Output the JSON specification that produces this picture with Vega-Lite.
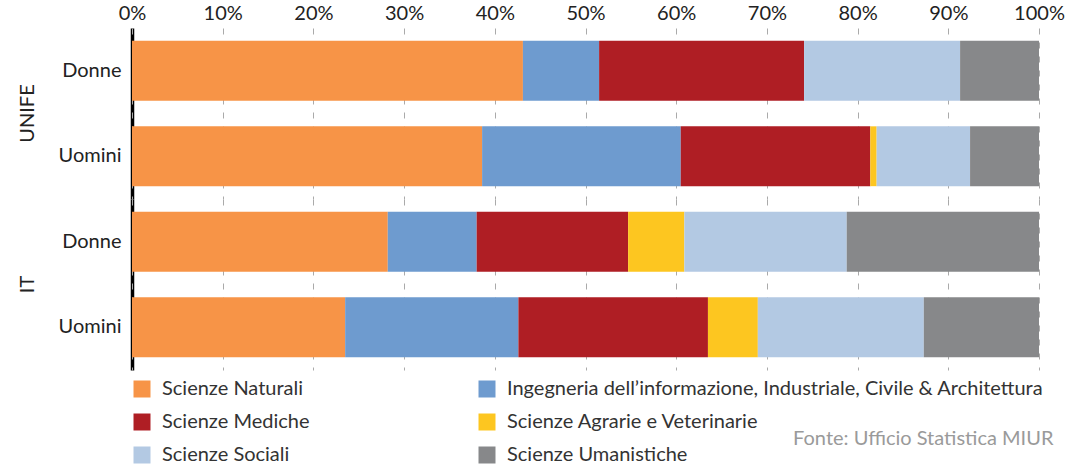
{
  "$schema": "https://vega.github.io/schema/vega-lite/v6.json",
  "background": "white",
  "padding": {"left": 18, "top": 3, "right": 5, "bottom": 5},
  "data": {"values": [
    {"gruppo": "UNIFE", "genere": "Donne", "area": "Scienze Naturali", "ordine": 1, "valore": 43.1},
    {"gruppo": "UNIFE", "genere": "Donne", "area": "Ingegneria dell’informazione, Industriale, Civile & Architettura", "ordine": 2, "valore": 8.4},
    {"gruppo": "UNIFE", "genere": "Donne", "area": "Scienze Mediche", "ordine": 3, "valore": 22.6},
    {"gruppo": "UNIFE", "genere": "Donne", "area": "Scienze Agrarie e Veterinarie", "ordine": 4, "valore": 0},
    {"gruppo": "UNIFE", "genere": "Donne", "area": "Scienze Sociali", "ordine": 5, "valore": 17.2},
    {"gruppo": "UNIFE", "genere": "Donne", "area": "Scienze Umanistiche", "ordine": 6, "valore": 8.7},
    {"gruppo": "UNIFE", "genere": "Uomini", "area": "Scienze Naturali", "ordine": 1, "valore": 38.6},
    {"gruppo": "UNIFE", "genere": "Uomini", "area": "Ingegneria dell’informazione, Industriale, Civile & Architettura", "ordine": 2, "valore": 21.9},
    {"gruppo": "UNIFE", "genere": "Uomini", "area": "Scienze Mediche", "ordine": 3, "valore": 20.9},
    {"gruppo": "UNIFE", "genere": "Uomini", "area": "Scienze Agrarie e Veterinarie", "ordine": 4, "valore": 0.7},
    {"gruppo": "UNIFE", "genere": "Uomini", "area": "Scienze Sociali", "ordine": 5, "valore": 10.3},
    {"gruppo": "UNIFE", "genere": "Uomini", "area": "Scienze Umanistiche", "ordine": 6, "valore": 7.6},
    {"gruppo": "IT", "genere": "Donne", "area": "Scienze Naturali", "ordine": 1, "valore": 28.2},
    {"gruppo": "IT", "genere": "Donne", "area": "Ingegneria dell’informazione, Industriale, Civile & Architettura", "ordine": 2, "valore": 9.8},
    {"gruppo": "IT", "genere": "Donne", "area": "Scienze Mediche", "ordine": 3, "valore": 16.7},
    {"gruppo": "IT", "genere": "Donne", "area": "Scienze Agrarie e Veterinarie", "ordine": 4, "valore": 6.2},
    {"gruppo": "IT", "genere": "Donne", "area": "Scienze Sociali", "ordine": 5, "valore": 17.9},
    {"gruppo": "IT", "genere": "Donne", "area": "Scienze Umanistiche", "ordine": 6, "valore": 21.2},
    {"gruppo": "IT", "genere": "Uomini", "area": "Scienze Naturali", "ordine": 1, "valore": 23.5},
    {"gruppo": "IT", "genere": "Uomini", "area": "Ingegneria dell’informazione, Industriale, Civile & Architettura", "ordine": 2, "valore": 19.1},
    {"gruppo": "IT", "genere": "Uomini", "area": "Scienze Mediche", "ordine": 3, "valore": 20.9},
    {"gruppo": "IT", "genere": "Uomini", "area": "Scienze Agrarie e Veterinarie", "ordine": 4, "valore": 5.5},
    {"gruppo": "IT", "genere": "Uomini", "area": "Scienze Sociali", "ordine": 5, "valore": 18.3},
    {"gruppo": "IT", "genere": "Uomini", "area": "Scienze Umanistiche", "ordine": 6, "valore": 12.7}
  ]},
  "title": {
    "text": "Fonte: Ufficio Statistica MIUR",
    "orient": "bottom",
    "anchor": "end",
    "font": "Lato",
    "fontSize": 20,
    "fontWeight": "normal",
    "color": "#9a9a9a",
    "dy": -40,
    "dx": -11
  },
  "facet": {
    "row": {
      "field": "gruppo",
      "type": "nominal",
      "sort": ["UNIFE", "IT"],
      "header": {
        "title": null,
        "labelAngle": -90,
        "labelOrient": "left",
        "labelFont": "Lato",
        "labelFontSize": 20,
        "labelColor": "#222",
        "labelPadding": 10
      }
    }
  },
  "spacing": 0,
  "spec": {
    "width": 907,
    "height": 171,
    "mark": {"type": "bar"},
    "encoding": {
      "y": {
        "field": "genere",
        "type": "nominal",
        "sort": ["Donne", "Uomini"],
        "title": null,
        "scale": {"paddingInner": 0.3, "paddingOuter": 0.15},
        "axis": {
          "domainColor": "#000",
          "domainWidth": 3.5,
          "ticks": false,
          "labelFont": "Lato",
          "labelFontSize": 20,
          "labelColor": "#222",
          "labelPadding": 11
        }
      },
      "x": {
        "field": "valore",
        "type": "quantitative",
        "stack": "normalize",
        "title": null,
        "scale": {"domain": [0, 1], "nice": false},
        "axis": {
          "orient": "top",
          "format": ".0%",
          "values": [0, 0.1, 0.2, 0.3, 0.4, 0.5, 0.6, 0.7, 0.8, 0.9, 1],
          "domain": false,
          "ticks": false,
          "labelFont": "Lato",
          "labelFontSize": 20,
          "labelColor": "#222",
          "labelPadding": 5,
          "labelFlush": false,
          "grid": true,
          "gridColor": "#aaaaaa",
          "gridDash": [6, 8],
          "gridWidth": 1
        }
      },
      "color": {
        "field": "area",
        "type": "nominal",
        "sort": {"field": "ordine"},
        "scale": {
          "domain": [
            "Scienze Naturali",
            "Ingegneria dell’informazione, Industriale, Civile & Architettura",
            "Scienze Mediche",
            "Scienze Agrarie e Veterinarie",
            "Scienze Sociali",
            "Scienze Umanistiche"
          ],
          "range": ["#F79447", "#6E9BCF", "#AF1E24", "#FDC620", "#B3C9E3", "#87888A"]
        },
        "legend": {
          "title": null,
          "orient": "bottom",
          "direction": "horizontal",
          "columns": 2,
          "symbolType": "square",
          "symbolSize": 289,
          "symbolStrokeWidth": 0,
          "labelFont": "Lato",
          "labelFontSize": 20,
          "labelColor": "#333",
          "labelOffset": 10,
          "labelLimit": 700,
          "rowPadding": 13,
          "columnPadding": 167,
          "offset": 9
        }
      },
      "order": {"field": "ordine", "type": "quantitative"}
    }
  },
  "config": {
    "view": {"stroke": null},
    "axis": {"gridCap": "butt"}
  }
}
